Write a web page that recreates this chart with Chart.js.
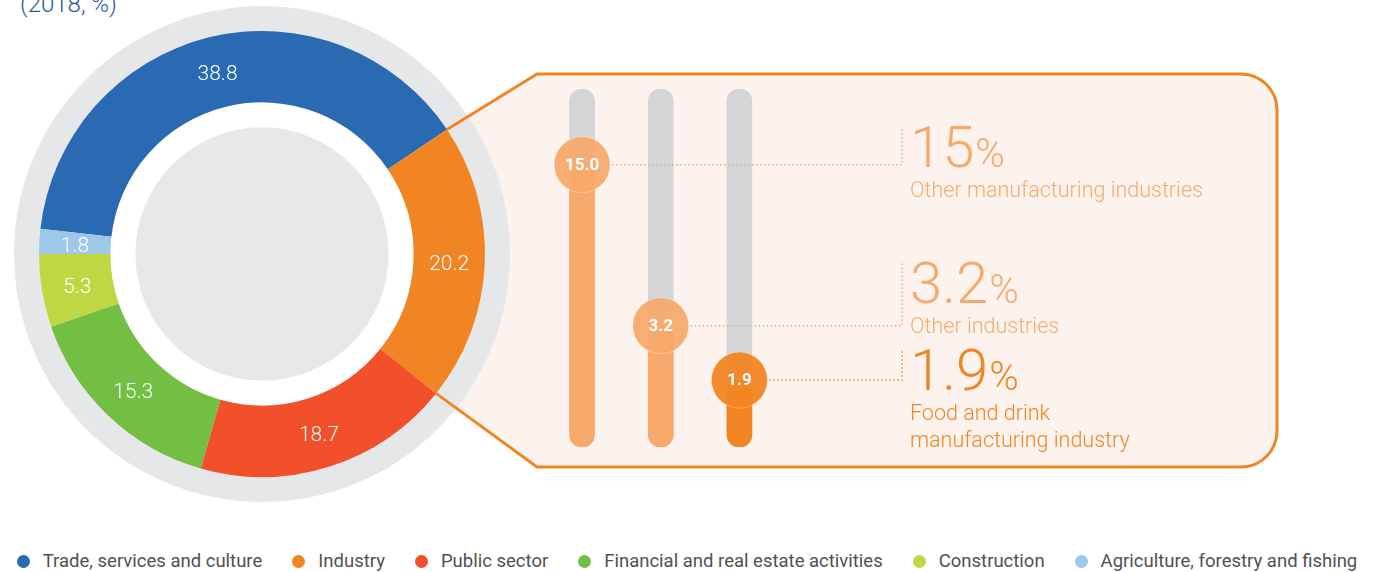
<!DOCTYPE html>
<html>
<head>
<meta charset="utf-8">
<title>Employment by sector</title>
<script src="https://cdn.jsdelivr.net/npm/chart.js@4.4.1/dist/chart.umd.min.js"></script>
<style>
    html, body { margin: 0; padding: 0; background: #fff; }
    body {
        position: relative;
        width: 1374px;
        height: 572px;
        overflow: hidden;
        font-family: Roboto, 'Open Sans', sans-serif;
    }
    #subtitle {
        position: absolute;
        left: 20px;
        top: -8px;
        font-size: 24px;
        line-height: 24px;
        font-weight: 300;
        color: #2a5a96;
        white-space: nowrap;
    }
    #sectorWrap { position: absolute; left: 0; top: 0; width: 1374px; height: 520px; }
    #industryWrap { position: absolute; left: 540px; top: 74px; width: 740px; height: 393px; }
    #legend {
        position: absolute;
        left: 0;
        top: 550px;
        width: 1374px;
        margin: 0;
        padding: 0;
        list-style: none;
        display: flex;
        justify-content: center;
        font-size: 18.5px;
        line-height: 22px;
        color: #505052;
    }
    #legend li { display: flex; align-items: center; margin: 0 15px; white-space: nowrap; }
    #legend .dot { width: 13px; height: 13px; border-radius: 50%; margin-right: 13px; flex: none; }
</style>
</head>
<body>
<div id="subtitle">(2018, %)</div>
<div id="sectorWrap"><canvas id="sectorChart"></canvas></div>
<div id="industryWrap"><canvas id="industryChart"></canvas></div>
<ul id="legend"></ul>

<script>
// Employment by sector (2018, %)
const sectors = [
    'Trade, services and culture',
    'Industry',
    'Public sector',
    'Financial and real estate activities',
    'Construction',
    'Agriculture, forestry and fishing'
];
const sectorShares = [38.8, 20.2, 18.7, 15.3, 5.3, 1.8];
const sectorColors = ['#2a6ab2', '#f28523', '#f24f2b', '#72bf44', '#bed742', '#9dc8e7'];

// Breakdown of the industry slice
const industryLabels = [
    'Other manufacturing industries',
    'Other industries',
    ['Food and drink', 'manufacturing industry']
];
const industryShares = [15.0, 3.2, 1.9];
const industryColors = ['#f7a96b', '#f7a96b', '#f28523'];
const industryDots = ['rgba(247, 169, 107, 0.94)', 'rgba(247, 169, 107, 0.94)', 'rgba(242, 133, 35, 0.95)'];
const trackMax = 31;

// Callout panel (decoration linking the industry slice to the breakdown)
const panel = { left: 537, top: 74, right: 1277, bottom: 467, radius: 36 };

function disc(ctx, x, y, r, color) {
    ctx.beginPath();
    ctx.arc(x, y, r, 0, Math.PI * 2);
    ctx.fillStyle = color;
    ctx.fill();
}

function panelPath(ctx, p1, p2) {
    const r = panel.radius;
    ctx.beginPath();
    ctx.moveTo(p1.x, p1.y);
    ctx.lineTo(panel.left, panel.top);
    ctx.lineTo(panel.right - r, panel.top);
    ctx.arcTo(panel.right, panel.top, panel.right, panel.top + r, r);
    ctx.lineTo(panel.right, panel.bottom - r);
    ctx.arcTo(panel.right, panel.bottom, panel.right - r, panel.bottom, r);
    ctx.lineTo(panel.left, panel.bottom);
    ctx.lineTo(p2.x, p2.y);
}

const ringDecor = {
    id: 'ringDecor',
    beforeDatasetsDraw(chart) {
        const arcs = chart.getDatasetMeta(0).data;
        if (!arcs.length) return;
        const ctx = chart.ctx;
        const { x, y, innerRadius, outerRadius } = arcs[0];
        const slice = arcs[1];
        const p1 = { x: x + Math.cos(slice.startAngle) * outerRadius, y: y + Math.sin(slice.startAngle) * outerRadius };
        const p2 = { x: x + Math.cos(slice.endAngle) * outerRadius, y: y + Math.sin(slice.endAngle) * outerRadius };

        ctx.save();
        panelPath(ctx, p1, p2);
        ctx.closePath();
        ctx.fillStyle = '#fdf3ee';
        ctx.fill();

        disc(ctx, x, y, outerRadius + 25, '#e6e7e8');
        disc(ctx, x, y, innerRadius, '#ffffff');
        disc(ctx, x, y, innerRadius - 25, '#e7e8e9');

        panelPath(ctx, p1, p2);
        ctx.strokeStyle = '#f28523';
        ctx.lineWidth = 3;
        ctx.lineJoin = 'round';
        ctx.stroke();
        ctx.restore();
    },
    afterDatasetsDraw(chart) {
        const ctx = chart.ctx;
        const values = chart.data.datasets[0].data;
        ctx.save();
        ctx.fillStyle = '#ffffff';
        ctx.font = '300 21px Roboto, sans-serif';
        ctx.textAlign = 'center';
        ctx.textBaseline = 'middle';
        chart.getDatasetMeta(0).data.forEach((arc, i) => {
            const a = (arc.startAngle + arc.endAngle) / 2;
            const r = (arc.innerRadius + arc.outerRadius) / 2;
            ctx.fillText(values[i].toFixed(1), arc.x + Math.cos(a) * r, arc.y + Math.sin(a) * r + 3);
        });
        ctx.restore();
    }
};

const htmlLegend = {
    id: 'htmlLegend',
    afterUpdate(chart) {
        const ul = document.getElementById('legend');
        ul.innerHTML = '';
        const items = chart.options.plugins.legend.labels.generateLabels(chart);
        items.forEach(item => {
            const li = document.createElement('li');
            const dot = document.createElement('span');
            dot.className = 'dot';
            dot.style.background = item.fillStyle;
            const txt = document.createElement('span');
            txt.textContent = item.text;
            li.append(dot, txt);
            ul.appendChild(li);
        });
    }
};

new Chart(document.getElementById('sectorChart'), {
    type: 'doughnut',
    data: {
        labels: sectors,
        datasets: [{
            data: sectorShares,
            backgroundColor: sectorColors,
            borderWidth: 0
        }]
    },
    options: {
        responsive: true,
        maintainAspectRatio: false,
        animation: false,
        rotation: -83.5,
        cutout: '68%',
        layout: { padding: { left: 39, right: 889, top: 31, bottom: 43 } },
        plugins: {
            legend: { display: false },
            tooltip: { enabled: false }
        }
    },
    plugins: [ringDecor, htmlLegend]
});

// Text beside each bar: baseline shift from the value's dot
const textShift = [2, -23, 10];
const leaderX = 362;
const textX = 370;

const callouts = {
    id: 'callouts',
    afterDatasetsDraw(chart) {
        const ctx = chart.ctx;
        const pts = chart.getDatasetMeta(0).data;
        ctx.save();
        pts.forEach((pt, i) => {
            const v = industryShares[i];
            const color = industryColors[i];
            const baseline = pt.y + textShift[i];

            ctx.fillStyle = '#ffffff';
            ctx.font = 'bold 17px Roboto, sans-serif';
            ctx.textAlign = 'center';
            ctx.textBaseline = 'middle';
            ctx.fillText(v.toFixed(1), pt.x, pt.y + 1);

            ctx.strokeStyle = color;
            ctx.lineWidth = 1.5;
            ctx.setLineDash([1.5, 2.5]);
            ctx.beginPath();
            ctx.moveTo(pt.x + 30, pt.y);
            ctx.lineTo(leaderX, pt.y);
            ctx.lineTo(leaderX, baseline - 40);
            ctx.stroke();
            ctx.setLineDash([]);

            ctx.fillStyle = color;
            ctx.textAlign = 'left';
            ctx.textBaseline = 'alphabetic';
            ctx.font = '300 58px Roboto, sans-serif';
            const num = String(v);
            ctx.fillText(num, textX, baseline);
            const w = ctx.measureText(num).width;
            ctx.font = '300 40px Roboto, sans-serif';
            ctx.fillText('%', textX + w + 1, baseline);

            ctx.font = '300 21.5px Roboto, sans-serif';
            [].concat(chart.data.labels[i]).forEach((line, k) => {
                ctx.fillText(line, textX, baseline + 30 + k * 27);
            });
        });
        ctx.restore();
    }
};

new Chart(document.getElementById('industryChart'), {
    type: 'bar',
    data: {
        labels: industryLabels,
        datasets: [
            {
                type: 'line',
                data: industryShares,
                showLine: false,
                pointRadius: 28,
                pointHoverRadius: 28,
                pointBackgroundColor: industryDots,
                pointBorderColor: 'rgba(255, 255, 255, 0.3)',
                pointBorderWidth: 1,
                clip: false
            },
            {
                data: industryShares,
                backgroundColor: industryColors,
                barThickness: 25,
                borderRadius: 13,
                borderSkipped: false,
                grouped: false
            },
            {
                data: industryShares.map(() => trackMax),
                backgroundColor: '#d4d5d7',
                barThickness: 25,
                borderRadius: 13,
                borderSkipped: false,
                grouped: false
            }
        ]
    },
    options: {
        responsive: true,
        maintainAspectRatio: false,
        animation: false,
        layout: {
            autoPadding: false,
            padding: { left: 2.75, right: 501.25, top: 15, bottom: 20 }
        },
        scales: {
            x: { display: false, offset: true },
            y: { type: 'logarithmic', min: 1, max: trackMax, display: false }
        },
        plugins: {
            legend: { display: false },
            tooltip: { enabled: false }
        }
    },
    plugins: [callouts]
});
</script>
</body>
</html>
